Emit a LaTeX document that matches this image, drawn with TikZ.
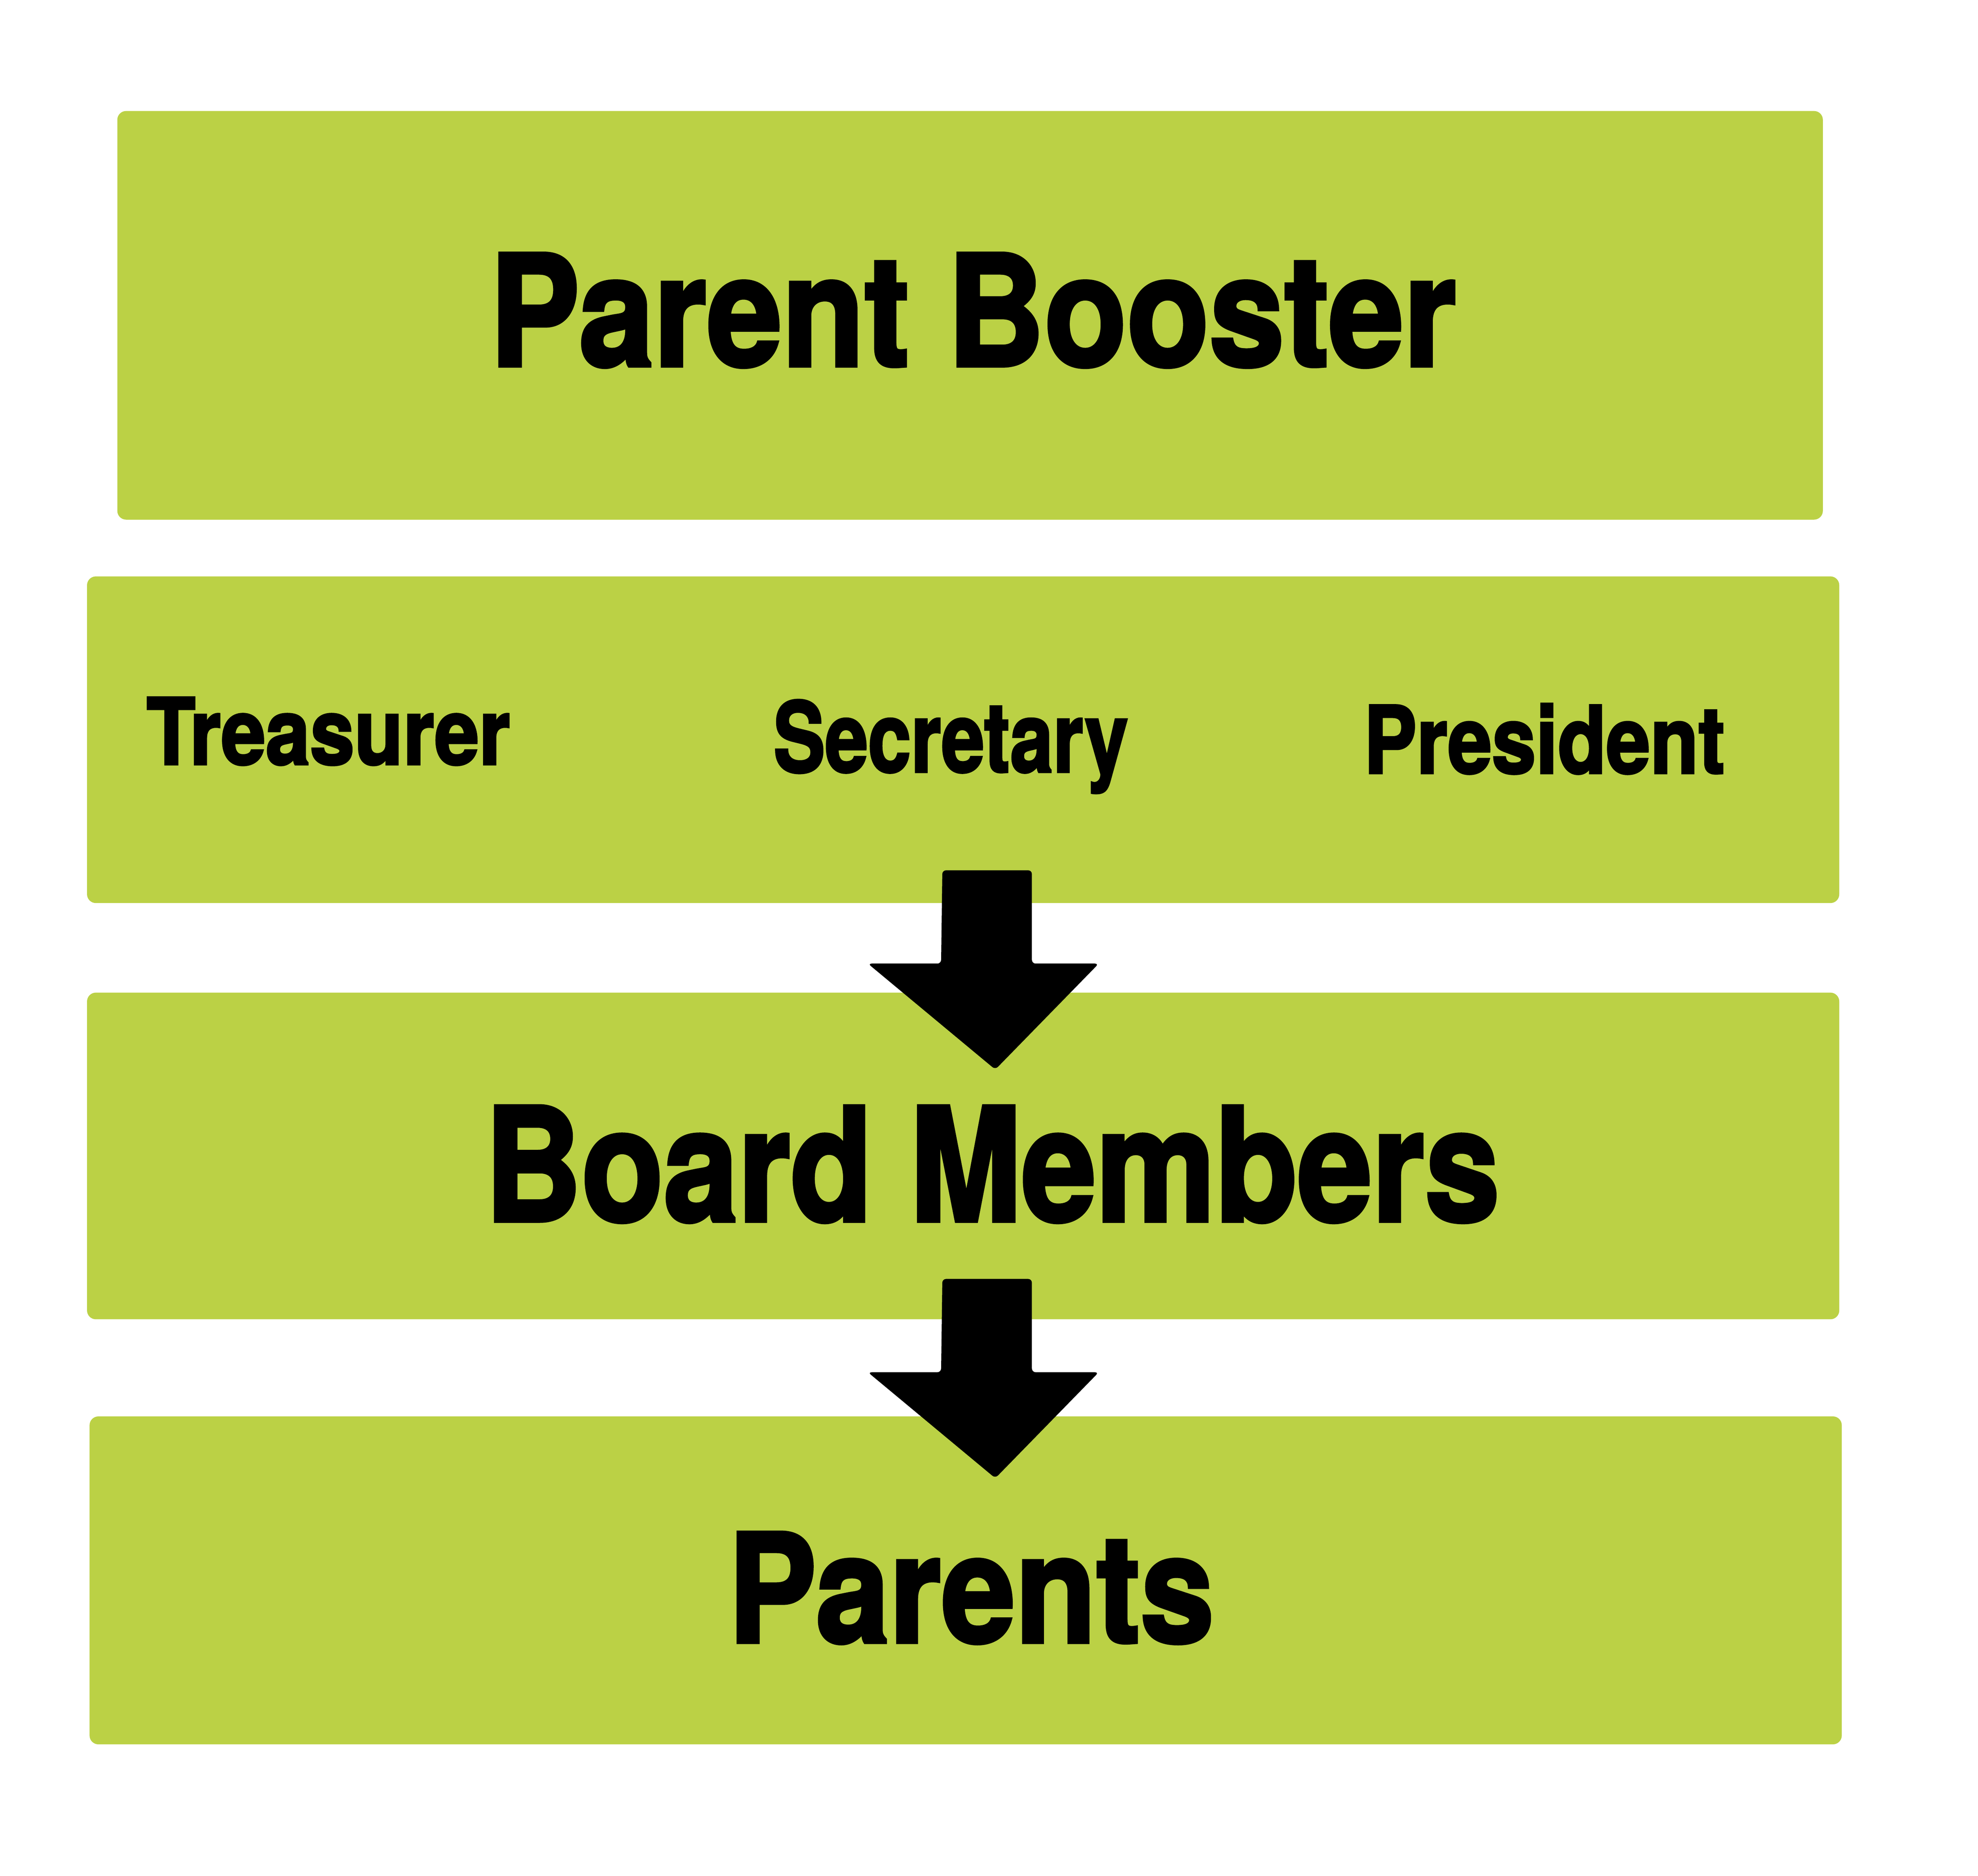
\documentclass[tikz,border=0pt]{standalone}
\usepackage{fontspec}
\usepackage{graphicx}
\newfontfamily\heavyfont{TeX Gyre Heros}[BoldFeatures={FakeBold=2.5}]
\newlength\pxu
\setlength\pxu{0.034292cm}
\definecolor{boxgreen}{RGB}{187,209,69}
\tikzset{
  box/.style={fill=boxgreen, draw=none, rounded corners=7\pxu, inner sep=0pt},
  lbl/.style={inner sep=0pt, anchor=base west, text=black, font=\heavyfont\bfseries},
  blockarrow/.pic={\fill[black, rounded corners=3\pxu] (-35,0) -- (36,0) -- (36,74) -- (89,74) -- (7,158) -- (-94,74) -- (-36,74) -- cycle;}
}
\begin{document}
\begin{tikzpicture}[x=1\pxu, y=-1\pxu]
\useasboundingbox (0,0) rectangle (1568,1487.2);
% boxes
\node[box, minimum width=1352\pxu, minimum height=324\pxu] (booster) at (769,250) {};
\node[box, minimum width=1389\pxu, minimum height=259\pxu] (officers) at (763.5,586.5) {};
\node[box, minimum width=1389\pxu, minimum height=259\pxu] (board) at (763.5,916.5) {};
\node[box, minimum width=1389\pxu, minimum height=260\pxu] (parents) at (765.5,1253) {};
% labels
\node[lbl] (tbooster) at (388,290) {\resizebox{766\pxu}{89\pxu}{Parent Booster}};
\node[lbl] (ttreas) at (116,606) {\resizebox{288\pxu}{53\pxu}{Treasurer}};
\node[lbl] (tsec) at (613,612) {\resizebox{281\pxu}{57\pxu}{Secretary}};
\node[lbl] (tpres) at (1081,613) {\resizebox{286\pxu}{55\pxu}{President}};
\node[lbl] (tboard) at (384,968) {\resizebox{804\pxu}{91\pxu}{Board Members}};
\node[lbl] (tparents) at (577,1302) {\resizebox{385\pxu}{87\pxu}{Parents}};
% block arrows
\coordinate (arrA) at (782,690);
\coordinate (arrB) at (782,1014);
\pic at (arrA) {blockarrow};
\pic at (arrB) {blockarrow};
\end{tikzpicture}
\end{document}
